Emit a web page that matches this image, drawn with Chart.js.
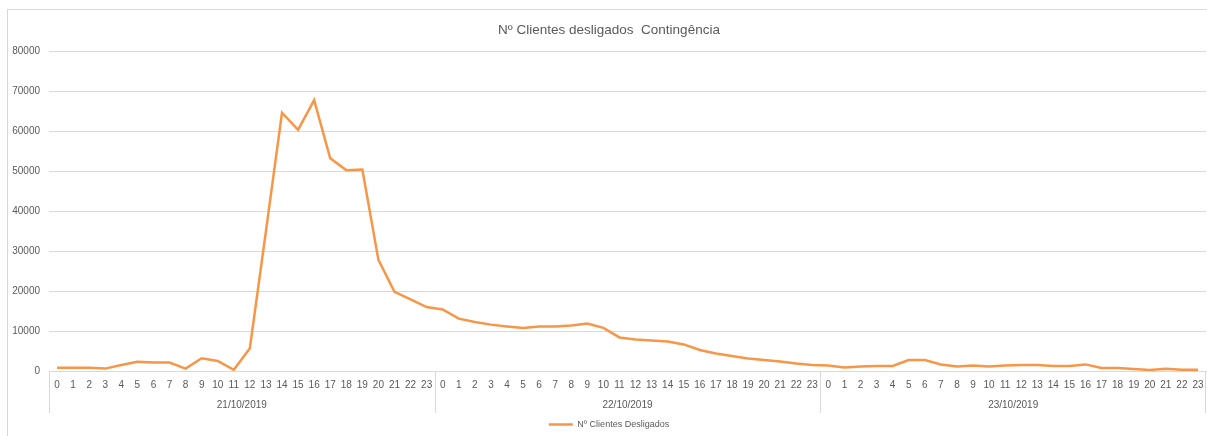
<!DOCTYPE html>
<html><head><meta charset="utf-8">
<script src="https://cdn.jsdelivr.net/npm/chart.js@4.4.0/dist/chart.umd.min.js"></script>
<style>html,body{margin:0;padding:0;background:#fff}#wrap{width:1207px;height:436px;position:relative}</style>
</head><body><div id="wrap"><canvas id="c"></canvas></div>
<script>
const hourLabels = [
  '0','1','2','3','4','5','6','7','8','9','10','11','12','13','14','15','16','17','18','19','20','21','22','23',
  '0','1','2','3','4','5','6','7','8','9','10','11','12','13','14','15','16','17','18','19','20','21','22','23',
  '0','1','2','3','4','5','6','7','8','9','10','11','12','13','14','15','16','17','18','19','20','21','22','23'
];
const dateLabels = ['21/10/2019', '22/10/2019', '23/10/2019'];
const day1 = [800,800,800,600,1500,2300,2100,2100,600,3200,2500,300,5700,35000,64600,60300,67750,53200,50250,50400,27800,19800,17900,16000];
const day2 = [15400,13100,12250,11600,11150,10750,11150,11150,11400,11900,10800,8400,7900,7650,7400,6650,5250,4400,3750,3150,2750,2400,1850,1500];
const day3 = [1400,900,1150,1250,1250,2750,2750,1650,1150,1400,1150,1400,1500,1500,1250,1250,1650,750,750,500,250,580,330,330];
const yTickValues = [0,10000,20000,30000,40000,50000,60000,70000,80000];
const seriesName = 'Nº Clientes Desligados';
const chartTitle = 'Nº Clientes desligados  Contingência';

const values = day1.concat(day2, day3);
const FONT = 'Liberation Sans, Arial, sans-serif';
const GRAY = '#595959';
const GRID = '#d9d9d9';

const decor = {
  id: 'decor',
  beforeDraw(chart) {
    const ctx = chart.ctx;
    ctx.save();
    ctx.strokeStyle = GRID;
    ctx.lineWidth = 1;
    ctx.strokeRect(7.5, 9.5, 1400, 600);
    ctx.restore();
  },
  afterDraw(chart) {
    const ctx = chart.ctx;
    const sx = chart.scales.xDate;
    const top = chart.chartArea.bottom;
    const bottom = sx.top + 14;
    ctx.save();
    ctx.strokeStyle = GRID;
    ctx.lineWidth = 1;
    [-0.5, 23.5, 47.5, 71.5].forEach(v => {
      const px = Math.min(Math.round(sx.getPixelForValue(v)) + 0.5, chart.width - 1.5);
      ctx.beginPath();
      ctx.moveTo(px, top);
      ctx.lineTo(px, bottom);
      ctx.stroke();
    });
    ctx.restore();
  }
};

new Chart(document.getElementById('c'), {
  type: 'line',
  data: {
    labels: hourLabels,
    datasets: [{
      label: seriesName,
      data: values,
      borderColor: '#F79646',
      backgroundColor: '#F79646',
      borderWidth: 2.5,
      pointRadius: 0,
      tension: 0,
      fill: false
    }]
  },
  options: {
    responsive: true,
    maintainAspectRatio: false,
    animation: false,
    layout: { padding: { left: 12, right: 1, top: 0, bottom: -3 } },
    plugins: {
      title: {
        display: true,
        text: chartTitle,
        color: GRAY,
        font: { family: FONT, size: 13.5, weight: 'normal' },
        padding: { top: 22, bottom: 13 }
      },
      legend: {
        position: 'bottom',
        labels: {
          color: GRAY,
          font: { family: FONT, size: 9 },
          usePointStyle: true,
          pointStyle: 'line',
          pointStyleWidth: 24,
          padding: 0
        }
      },
      tooltip: { enabled: false }
    },
    scales: {
      x: {
        type: 'category',
        offset: true,
        weight: 0,
        grid: { display: false, drawTicks: false },
        border: { display: true, color: GRID },
        ticks: { color: GRAY, font: { family: FONT, size: 10 }, padding: 8, autoSkip: false, maxRotation: 0 },
        afterFit(axis) { axis.paddingLeft = 0; axis.paddingRight = 0; axis.height = 28; }
      },
      xDate: {
        type: 'linear',
        position: 'bottom',
        weight: 1,
        min: -0.5,
        max: 71.5,
        offset: false,
        grid: { display: false, drawTicks: false },
        border: { display: false },
        afterBuildTicks(axis) { axis.ticks = [11.5, 35.5, 59.5].map(v => ({ value: v })); },
        afterFit(axis) { axis.paddingLeft = 0; axis.paddingRight = 0; axis.height = 21; },
        ticks: {
          color: GRAY, font: { family: FONT, size: 10 }, padding: 0, autoSkip: false, maxRotation: 0,
          callback: (v) => dateLabels[Math.round((v - 11.5) / 24)]
        }
      },
      y: {
        min: 0,
        max: 80000,
        afterBuildTicks(axis) { axis.ticks = yTickValues.map(v => ({ value: v })); },
        afterFit(axis) { axis.width = 37; },
        grid: { color: GRID, drawTicks: false },
        border: { display: false },
        ticks: { color: GRAY, font: { family: FONT, size: 10 }, padding: 9, callback: (v) => String(v) }
      }
    }
  },
  plugins: [decor]
});
</script>
</body></html>
